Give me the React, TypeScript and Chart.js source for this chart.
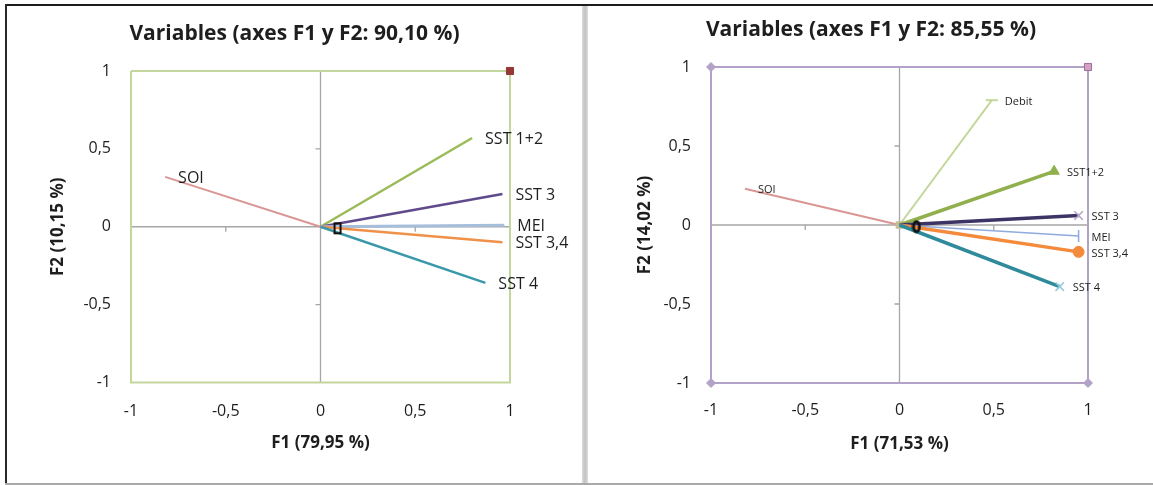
import React, { useEffect, useRef } from "react";
import { Chart, registerables } from "chart.js";

Chart.register(...registerables);

// ---- data ----
const leftNames = ["SOI", "SST 1+2", "SST 3", "MEI", "SST 3,4", "SST 4"];
const leftF1 = [-0.82, 0.8, 0.96, 0.97, 0.96, 0.87];
const leftF2 = [0.32, 0.57, 0.21, 0.01, -0.1, -0.36];

const rightNames = ["SOI", "Debit", "SST1+2", "SST 3", "MEI", "SST 3,4", "SST 4"];
const rightF1 = [-0.82, 0.49, 0.82, 0.95, 0.95, 0.95, 0.85];
const rightF2 = [0.23, 0.79, 0.34, 0.06, -0.07, -0.17, -0.39];

const frameF1 = [-1, 1, 1, -1, -1];
const frameF2 = [1, 1, -1, -1, 1];

const centroidLeft = [0.09, -0.01];
const centroidRight = [0.09, -0.01];

const axisTickValues = [-0.5, 0.5];

const leftTitle = "Variables (axes F1 y F2: 90,10 %)";
const rightTitle = "Variables (axes F1 y F2: 85,55 %)";
const leftXTitle = "F1 (79,95 %)";
const leftYTitle = "F2 (10,15 %)";
const rightXTitle = "F1 (71,53 %)";
const rightYTitle = "F2 (14,02 %)";

// ---- styles ----
const FONT = "'Open Sans', 'Noto Sans', sans-serif";
const TEXT = "#1e1e1e";

const leftColors = ["#d99694", "#9bbb59", "#5f4a8b", "#a7bedb", "#f0914a", "#3a98ab"];
const leftWidths = [2, 2.5, 2.5, 3, 2.5, 2.5];

const rightColors = ["#d99694", "#c3d69b", "#8fb04c", "#3d3466", "#8eaadf", "#f48a3c", "#2f8a9b"];
const rightWidths = [2, 2, 3.5, 3.5, 1.5, 3.5, 3.5];

function makeGlyph(kind: "box" | "ring"): HTMLCanvasElement {
  const c = document.createElement("canvas");
  c.width = 10;
  c.height = 14;
  const g = c.getContext("2d")!;
  g.strokeStyle = "#111";
  if (kind === "box") {
    g.lineWidth = 2;
    g.strokeRect(2, 2, 6, 10);
  } else {
    g.lineWidth = 3;
    g.beginPath();
    g.ellipse(5, 7, 3, 5, 0, 0, Math.PI * 2);
    g.stroke();
  }
  return c;
}

const fmt = (v: number) => String(v).replace(".", ",");

// zero axes with small tick marks, drawn through the scales
const zeroAxes = {
  id: "zeroAxes",
  beforeDatasetsDraw(chart: any) {
    const { ctx, chartArea: a, scales } = chart;
    const x0 = scales.x.getPixelForValue(0);
    const y0 = scales.y.getPixelForValue(0);
    ctx.save();
    ctx.strokeStyle = "#a6a6a6";
    ctx.lineWidth = 1.3;
    ctx.beginPath();
    ctx.moveTo(x0, a.top);
    ctx.lineTo(x0, a.bottom);
    ctx.moveTo(a.left, y0);
    ctx.lineTo(a.right, y0);
    for (const v of axisTickValues) {
      const px = scales.x.getPixelForValue(v);
      ctx.moveTo(px, y0);
      ctx.lineTo(px, y0 + 5);
      const py = scales.y.getPixelForValue(v);
      ctx.moveTo(x0, py);
      ctx.lineTo(x0 - 5, py);
    }
    ctx.stroke();
    ctx.restore();
  },
};

// names written to the right of each vector tip
const tipLabels = {
  id: "tipLabels",
  afterDatasetsDraw(chart: any) {
    const { ctx } = chart;
    const size = chart.options.plugins.tipLabels.size;
    ctx.save();
    ctx.font = `${size}px ${FONT}`;
    ctx.fillStyle = TEXT;
    ctx.textAlign = "left";
    ctx.textBaseline = "middle";
    chart.data.datasets.forEach((ds: any, i: number) => {
      if (!ds.tipName) return;
      const meta = chart.getDatasetMeta(i);
      const pt = meta.data[1];
      ctx.fillText(ds.tipName, pt.x + 13, pt.y + 1.5);
    });
    ctx.restore();
  },
};

type Panel = {
  title: string;
  xTitle: string;
  yTitle: string;
  names: string[];
  f1: number[];
  f2: number[];
  colors: string[];
  widths: number[];
  right: boolean;
  centroid: number[];
};

function buildConfig(p: Panel): any {
  const datasets: any[] = [];

  // frame around the correlation square
  datasets.push({
    data: frameF1.map((x, i) => ({ x, y: frameF2[i] })),
    showLine: true,
    borderColor: p.right ? "#b3a2c7" : "#c3d69b",
    borderWidth: 2,
    pointStyle: p.right ? ["rectRot", "rect", "rectRot", "rectRot", "rectRot"] : "rect",
    pointRadius: p.right ? [4.5, 5, 4.5, 4.5, 0] : [0, 5, 0, 0, 0],
    pointBackgroundColor: p.right
      ? ["#b3a2c7", "#d4a0c4", "#b3a2c7", "#b3a2c7", "#b3a2c7"]
      : "#953735",
    pointBorderColor: p.right ? ["#b3a2c7", "#9a6f9e", "#b3a2c7", "#b3a2c7", "#b3a2c7"] : "#953735",
    pointBorderWidth: 1,
    clip: false,
    order: 10,
  });

  p.names.forEach((name, i) => {
    let style: any = "circle";
    let radius: any = [0, 0];
    let fill: any = p.colors[i];
    let stroke: any = p.colors[i];
    let bw = 1;
    if (p.right) {
      if (name === "Debit") {
        style = ["rect", "line"];
        radius = [4, 6];
        fill = ["#c4bd97", p.colors[i]];
        stroke = ["#c4bd97", p.colors[i]];
        bw = 2;
      } else if (name === "SST1+2") {
        style = "triangle";
        radius = [0, 6];
      } else if (name === "SST 3") {
        style = "crossRot";
        radius = [0, 6];
        stroke = "#b3a2c7";
        bw = 1.5;
      } else if (name === "MEI") {
        style = "line";
        radius = [0, 6];
        bw = 1.5;
      } else if (name === "SST 3,4") {
        style = "circle";
        radius = [0, 5.5];
      } else if (name === "SST 4") {
        style = "crossRot";
        radius = [0, 6];
        stroke = "#93cddd";
        bw = 1.5;
      }
    }
    datasets.push({
      tipName: name,
      data: [
        { x: 0, y: 0 },
        { x: p.f1[i], y: p.f2[i] },
      ],
      showLine: true,
      borderColor: p.colors[i],
      borderWidth: p.widths[i],
      pointStyle: style,
      pointRadius: radius,
      pointRotation: name === "MEI" ? 90 : 0,
      pointBackgroundColor: fill,
      pointBorderColor: stroke,
      pointBorderWidth: bw,
      clip: false,
      order: 5 - i * 0.01,
    });
  });

  datasets.push({
    data: [{ x: p.centroid[0], y: p.centroid[1] }],
    pointStyle: makeGlyph(p.right ? "ring" : "box"),
    pointRadius: 5,
    clip: false,
    order: 0,
  });

  const d = p.right
    ? { yW: 122, rW: 65, yTitlePad: 45.8, tTop: 17.4, tBot: 24.4, xH: 72, xTitlePad: 0.8, xTickPad: 17.4 }
    : { yW: 124, rW: 72, yTitlePad: 40.8, tTop: 21.4, tBot: 24.4, xH: 72.5, xTitlePad: 1.8, xTickPad: 18.9 };

  const tickFont = { family: FONT, size: 16, lineHeight: 1.2 };
  const axisTitleFont = { family: FONT, size: 17, weight: "bold", lineHeight: 1.2 };

  return {
    type: "scatter",
    data: { datasets },
    options: {
      animation: false,
      responsive: false,
      maintainAspectRatio: false,
      layout: { padding: { left: 0, right: 0, top: 0, bottom: 30 } },
      plugins: {
        legend: { display: false },
        tooltip: { enabled: false },
        title: {
          display: true,
          text: p.title,
          color: TEXT,
          font: { family: FONT, size: 21, weight: "bold", lineHeight: 1.2 },
          padding: { top: d.tTop, bottom: d.tBot },
        },
        tipLabels: { size: p.right ? 11 : 16 },
      },
      scales: {
        x: {
          type: "linear",
          position: "bottom",
          min: -1,
          max: 1,
          grid: { display: false, drawTicks: false },
          border: { display: false },
          ticks: { stepSize: 0.5, padding: d.xTickPad, color: TEXT, font: tickFont, callback: (v: number) => fmt(v) },
          title: { display: true, text: p.xTitle, color: TEXT, font: axisTitleFont, padding: { top: 0, bottom: d.xTitlePad } },
          afterFit: (s: any) => {
            s.height = d.xH;
          },
        },
        y: {
          type: "linear",
          position: "left",
          min: -1,
          max: 1,
          grid: { display: false, drawTicks: false },
          border: { display: false },
          ticks: { stepSize: 0.5, padding: 20, color: TEXT, font: tickFont, callback: (v: number) => fmt(v) },
          title: { display: true, text: p.yTitle, color: TEXT, font: axisTitleFont, padding: { top: d.yTitlePad, bottom: 0 } },
          afterFit: (s: any) => {
            s.width = d.yW;
          },
        },
        yR: {
          type: "linear",
          position: "right",
          display: true,
          grid: { display: false, drawTicks: false },
          border: { display: false },
          ticks: { display: false },
          afterFit: (s: any) => {
            s.width = d.rW;
          },
        },
      },
    },
    plugins: [zeroAxes, tipLabels],
  };
}

function PanelChart(props: { panel: Panel; left: number; width: number }) {
  const ref = useRef<HTMLCanvasElement | null>(null);
  useEffect(() => {
    if (!ref.current) return;
    const chart = new Chart(ref.current, buildConfig(props.panel));
    return () => chart.destroy();
  }, []);
  return (
    <canvas
      ref={ref}
      width={props.width}
      height={485}
      style={{ position: "absolute", left: props.left, top: 0, width: props.width, height: 485 }}
    />
  );
}

const leftPanel: Panel = {
  title: leftTitle,
  xTitle: leftXTitle,
  yTitle: leftYTitle,
  names: leftNames,
  f1: leftF1,
  f2: leftF2,
  colors: leftColors,
  widths: leftWidths,
  right: false,
  centroid: centroidLeft,
};

const rightPanel: Panel = {
  title: rightTitle,
  xTitle: rightXTitle,
  yTitle: rightYTitle,
  names: rightNames,
  f1: rightF1,
  f2: rightF2,
  colors: rightColors,
  widths: rightWidths,
  right: true,
  centroid: centroidRight,
};

export default function App() {
  return (
    <div style={{ position: "fixed", left: 0, top: 0, width: 1153, height: 485, background: "#fff", overflow: "hidden" }}>
      <PanelChart panel={leftPanel} left={7} width={575} />
      <PanelChart panel={rightPanel} left={589} width={564} />
      <div style={{ position: "absolute", left: 5, top: 4, width: 1148, height: 2, background: "#1c1c1c" }} />
      <div style={{ position: "absolute", left: 5, top: 4, width: 2, height: 480, background: "#2a2a2a" }} />
      <div style={{ position: "absolute", left: 5, top: 483, width: 1148, height: 2, background: "#a9a9a9" }} />
      <div
        style={{
          position: "absolute",
          left: 582,
          top: 6,
          width: 6,
          height: 477,
          background: "linear-gradient(to right, #dcdcdc, #c2c2c2 50%, #dcdcdc)",
        }}
      />
    </div>
  );
}
